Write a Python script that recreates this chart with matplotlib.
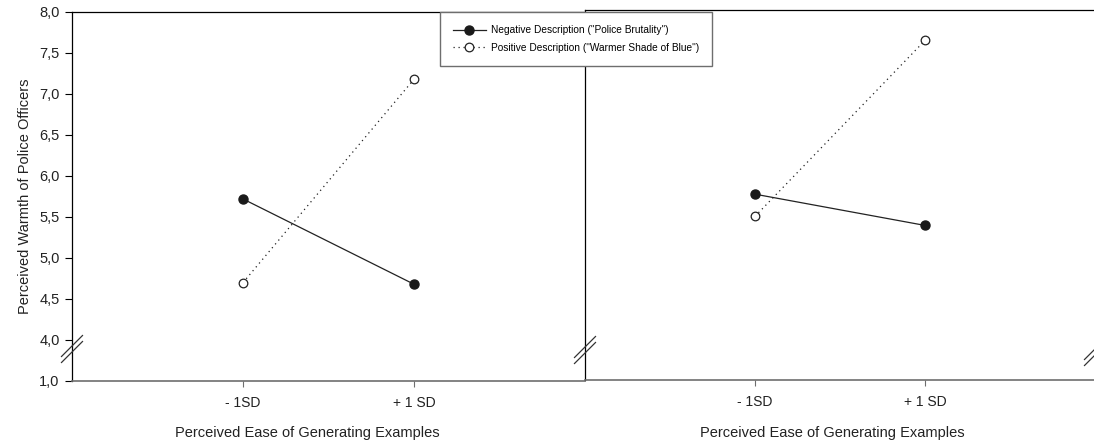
import numpy as np
import matplotlib
matplotlib.use("Agg")
import matplotlib.pyplot as plt

plt.rcParams["font.family"] = ["Liberation Sans", "DejaVu Sans"]

# data
x_labels = ["- 1SD", "+ 1 SD"]
neg_left = [5.72, 4.68]
pos_left = [4.70, 7.18]
neg_right = [5.76, 5.38]
pos_right = [5.49, 7.63]
ytick_vals = [3.5, 4.0, 4.5, 5.0, 5.5, 6.0, 6.5, 7.0, 7.5, 8.0]
ytick_labels = ["1,0", "4,0", "4,5", "5,0", "5,5", "6,0", "6,5", "7,0", "7,5", "8,0"]
legend_labels = ['Negative Description ("Police Brutality")',
                 'Positive Description ("Warmer Shade of Blue")']

W, H = 1094, 445
fig = plt.figure(figsize=(W / 100, H / 100), dpi=100)


def px_ax(x0, x1, ytop, ybot):
    return fig.add_axes([x0 / W, 1 - ybot / H, (x1 - x0) / W, (ybot - ytop) / H])


ax1 = px_ax(72, 585, 12, 381)
ax2 = px_ax(585, 1095, 10, 380)
xpos = [1, 2]
GRAY = "#6e6e6e"


def draw_break(ax, xa, ypx_from_bottom):
    # two short parallel slashes across a spine; sizes in pixels
    bw, bh = ax.bbox.width, ax.bbox.height
    half = 10.5
    for off in (-3.0, 3.0):
        yc = ypx_from_bottom + off
        ax.plot([xa - half / bw, xa + half / bw],
                [(yc - half) / bh, (yc + half) / bh],
                transform=ax.transAxes, color="#333333", lw=0.9, clip_on=False,
                zorder=6)


for ax, neg, pos in [(ax1, neg_left, pos_left), (ax2, neg_right, pos_right)]:
    ax.plot(xpos, neg, color="#222222", lw=0.9, marker="o", ms=6.5,
            mfc="#1a1a1a", mec="#1a1a1a", label=legend_labels[0])
    ax.plot(xpos, pos, color="#222222", lw=0.9, ls=(0, (1, 3)), marker="o",
            ms=6.2, mfc="white", mec="#222222", mew=0.9, label=legend_labels[1])
    ax.set_xlim(0, 3)
    ax.set_ylim(3.5, 8.0)
    ax.set_xticks(xpos)
    ax.set_xticklabels(x_labels, fontsize=10, color="#222222")
    ax.tick_params(axis="x", length=4, width=0.8, color=GRAY, pad=7)
    ax.spines["bottom"].set_color(GRAY)
    ax.spines["bottom"].set_linewidth(1.2)
    ax.spines["top"].set_linewidth(0.9)
    ax.spines["left"].set_linewidth(0.9)
    ax.spines["right"].set_visible(False)

ax1.set_yticks(ytick_vals)
ax1.set_yticklabels(ytick_labels, fontsize=10.5, color="#222222")
ax1.tick_params(axis="y", length=5, width=0.8, pad=4)
ax1.set_ylabel("Perceived Warmth of Police Officers", fontsize=10.5,
               color="#222222", labelpad=5)

ax2.set_yticks([])
ax2.set_zorder(1)

draw_break(ax1, 0.0, 381 - 349)
draw_break(ax2, 0.0, 380 - 350)
draw_break(ax2, 1.0, 380 - 352)

fig.text(307 / W, 1 - 433 / H, "Perceived Ease of Generating Examples",
         ha="center", va="center", fontsize=10.5, color="#222222")
fig.text(832 / W, 1 - 433 / H, "Perceived Ease of Generating Examples",
         ha="center", va="center", fontsize=10.5, color="#222222")

h, l = ax1.get_legend_handles_labels()
leg = fig.legend(h, l, loc="upper left", bbox_to_anchor=(440 / W, 1 - 12 / H),
                 fontsize=7.3, frameon=True, fancybox=False, edgecolor=GRAY,
                 framealpha=1, handlelength=3.2, handletextpad=0.5,
                 borderpad=1.3, labelspacing=0.75, borderaxespad=0)
leg.get_frame().set_linewidth(1.0)
leg.set_zorder(10)

fig.savefig("out.png", dpi=100)
